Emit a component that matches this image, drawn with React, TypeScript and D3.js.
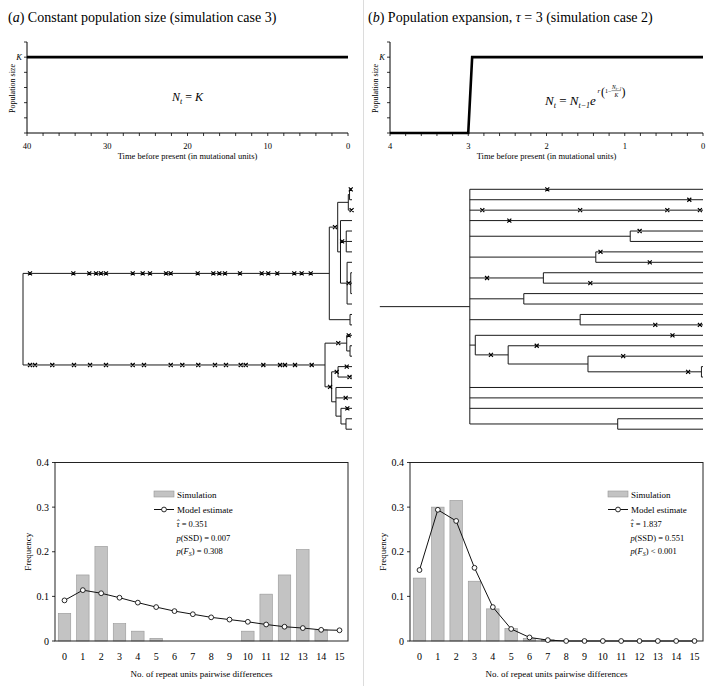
import { useEffect, useRef } from 'react'
import * as d3 from 'd3'

type Box = { left: number; right: number; top: number; bottom: number }
type Row = [string, string | null, number]
type G = d3.Selection<SVGGElement, unknown, null, undefined>

const WIDTH = 719
const HEIGHT = 686
const SERIF = '"Liberation Serif", "Times New Roman", Times, serif'
const INK = '#000'

// ── Top panels: population size through time ───────────────────────────────
const POP_K = 5
const POP_Y_TICKS = [0, 1, 2, 3, 4, 5, 6]
const POP_A_TIME = [40, 0]
const POP_A_SIZE = [5, 5]
const POP_B_TIME = [4, 3, 2.95, 0]
const POP_B_SIZE = [0, 0, 5, 5]
const TIME_A_LABELS = [40, 30, 20, 10, 0]
const TIME_B_LABELS = [4, 3, 2, 1, 0]

// ── Bottom panels: mismatch distributions ───────────────────────────────────
const DIFFS = [0, 1, 2, 3, 4, 5, 6, 7, 8, 9, 10, 11, 12, 13, 14, 15]
const SIM_A = [0.062, 0.148, 0.212, 0.039, 0.022, 0.006, 0, 0, 0, 0, 0.022, 0.105, 0.148, 0.205, 0.025, 0]
const MODEL_A = [0.091, 0.114, 0.107, 0.097, 0.086, 0.076, 0.067, 0.06, 0.053, 0.048, 0.043, 0.037, 0.032, 0.029, 0.025, 0.024]
const SIM_B = [0.141, 0.3, 0.315, 0.134, 0.072, 0.028, 0.006, 0.003, 0, 0, 0, 0, 0, 0, 0, 0]
const MODEL_B = [0.159, 0.294, 0.269, 0.164, 0.076, 0.027, 0.008, 0.002, 0, 0, 0, 0, 0, 0, 0, 0]
const FREQ_TICKS = [0, 0.1, 0.2, 0.3, 0.4]
const STATS_A = ['= 0.351', '= 0.007', '= 0.308']
const STATS_B = ['= 1.837', '= 0.551', '< 0.001']

// ── Genealogies: [node, parent, time before present] ────────────────────────
const TREE_A: Row[] = [
  ['root', null, 40],
  ['U', 'root', 2.76],
  ['L', 'root', 3.28],
  ['U1', 'U', 1.74],
  ['U2', 'U', 0.24],
  ['U1a', 'U1', 0.45],
  ['U1b', 'U1', 1.4],
  ['c01', 'U1a', 0.3],
  ['a0', 'c01', 0], ['a1', 'c01', 0],
  ['a2', 'U1a', 0],
  ['a3', 'U1b', 0],
  ['U1d', 'U1b', 0.7],
  ['a4', 'U1d', 0], ['a5', 'U1d', 0], ['a6', 'U1d', 0],
  ['U1e', 'U1b', 0.6],
  ['a7', 'U1e', 0],
  ['U1f', 'U1e', 0.15],
  ['a8', 'U1f', 0], ['a9', 'U1f', 0], ['a10', 'U1f', 0],
  ['a11', 'U1e', 0],
  ['a12', 'U2', 0], ['a13', 'U2', 0],
  ['L1', 'L', 0.64],
  ['a14', 'L1', 0],
  ['c1516', 'L1', 0.24],
  ['a15', 'c1516', 0], ['a16', 'c1516', 0],
  ['L2', 'L', 2.47],
  ['L2a', 'L2', 1.7],
  ['a17', 'L2a', 0], ['a18', 'L2a', 0],
  ['L2b', 'L2', 1.95],
  ['a19', 'L2b', 0], ['a20', 'L2b', 0],
  ['L2c', 'L2b', 1.34],
  ['a21', 'L2c', 0],
  ['c2223', 'L2c', 0.73],
  ['a22', 'c2223', 0], ['a23', 'c2223', 0],
]

// mutations: [branch (node below it), times]
const MUT_A: [string, number[]][] = [
  ['U', [39.15, 33.88, 31.94, 31.12, 30.52, 29.91, 26.66, 25.45, 24.56, 22.61, 22.04, 18.76, 16.86, 16.13, 15.44, 13.62, 10.98, 10.18, 9.09, 7.02, 6.12, 5.02]],
  ['L', [39.15, 38.54, 36.44, 33.8, 31.85, 29.91, 26.66, 25.29, 22.04, 20.63, 18.69, 16.66, 15.32, 13.53, 12.92, 10.78, 8.75, 8.15, 6.93, 4.9]],
  ['U1', [2.07]],
  ['a0', [0.15]],
  ['a2', [0.05]],
  ['U1d', [1.2]],
  ['U1f', [0.4]],
  ['L1', [1.67]],
  ['a14', [0.4]],
  ['L2', [2.67]],
  ['L2a', [1.86]],
  ['a17', [0.64]],
  ['a18', [0.3]],
  ['a20', [0.77]],
  ['a21', [0.57]],
]

const TREE_B: Row[] = [
  ['root', null, 2.98],
  ['b0', 'root', 0], ['b1', 'root', 0], ['b2', 'root', 0], ['b3', 'root', 0],
  ['n5', 'root', 0.93], ['b4', 'n5', 0], ['b5', 'n5', 0],
  ['n6', 'root', 1.37], ['b6', 'n6', 0], ['b7', 'n6', 0],
  ['n7', 'root', 2.04], ['b8', 'n7', 0], ['b9', 'n7', 0],
  ['n8', 'root', 2.29], ['b10', 'n8', 0], ['b11', 'n8', 0],
  ['n9', 'root', 1.57], ['b12', 'n9', 0], ['b13', 'n9', 0],
  ['n10', 'root', 2.91], ['b14', 'n10', 0],
  ['n11', 'n10', 2.49], ['b15', 'n11', 0],
  ['n12', 'n11', 1.47], ['b16', 'n12', 0],
  ['n13', 'n12', 0.02], ['b17', 'n13', 0], ['b18', 'n13', 0],
  ['b19', 'root', 0], ['b20', 'root', 0], ['b21', 'root', 0],
  ['n14', 'root', 1.09], ['b22', 'n14', 0], ['b23', 'n14', 0],
]
const TREE_B_STEM = 4.13

const MUT_B: [string, number[]][] = [
  ['b0', [1.99]],
  ['b1', [0.175]],
  ['b2', [2.82, 1.57, 0.456, 0.04]],
  ['b3', [2.475]],
  ['b4', [0.81]],
  ['b6', [1.31]],
  ['b7', [0.68]],
  ['n7', [2.76]],
  ['b9', [1.44]],
  ['b13', [0.61, 0.04]],
  ['b14', [0.39]],
  ['n11', [2.71]],
  ['b15', [2.125]],
  ['b16', [1.02]],
  ['n13', [0.19]],
]

// ── Layout ──────────────────────────────────────────────────────────────────
const TOP_A: Box = { left: 27, right: 348, top: 42, bottom: 133 }
const TOP_B: Box = { left: 390, right: 703, top: 42, bottom: 133 }
const BOT_A: Box = { left: 55, right: 348, top: 462.5, bottom: 641 }
const BOT_B: Box = { left: 410, right: 703, top: 462.5, bottom: 641 }
const LEAF_TOP = 189.3
const LEAF_STEP = 10.43

function txt(g: G, x: number, y: number, size: number, s: string, anchor = 'start') {
  return g.append('text')
    .attr('x', x).attr('y', y)
    .attr('font-size', size)
    .attr('text-anchor', anchor)
    .attr('fill', INK)
    .text(s)
}

function title(g: G, x: number, letter: string, parts: [string, boolean][]) {
  const t = g.append('text').attr('x', x).attr('y', 22).attr('font-size', 14).attr('fill', INK)
  t.append('tspan').text('(')
  t.append('tspan').attr('font-style', 'italic').text(letter)
  t.append('tspan').text(') ')
  parts.forEach(([s, it]) => t.append('tspan').attr('font-style', it ? 'italic' : 'normal').text(s))
}

function drawPopulation(
  g: G, box: Box, domain: [number, number], minor: number[], labels: number[],
  times: number[], sizes: number[],
) {
  const x = d3.scaleLinear().domain(domain).range([box.left, box.right])
  const y = d3.scaleLinear().domain([0, 6]).range([box.bottom, box.top])

  g.append('line').attr('x1', box.left).attr('x2', box.left)
    .attr('y1', box.top).attr('y2', box.bottom).attr('stroke', INK)
  g.append('line').attr('x1', box.left).attr('x2', box.right)
    .attr('y1', box.bottom).attr('y2', box.bottom).attr('stroke', INK)

  g.selectAll(null).data(minor).enter().append('line')
    .attr('x1', (d) => x(d)).attr('x2', (d) => x(d))
    .attr('y1', box.bottom).attr('y2', box.bottom + 3)
    .attr('stroke', INK).attr('stroke-width', 0.8)
  g.selectAll(null).data(POP_Y_TICKS).enter().append('line')
    .attr('x1', box.left - 3).attr('x2', box.left)
    .attr('y1', (d) => y(d)).attr('y2', (d) => y(d))
    .attr('stroke', INK).attr('stroke-width', 0.8)

  labels.forEach((v) => txt(g, x(v), box.bottom + 16, 8.5, String(v), 'middle'))
  txt(g, box.left - 5, y(POP_K) + 3, 8.5, 'K', 'end').attr('font-style', 'italic')

  txt(g, (box.left + box.right) / 2, box.bottom + 26, 8.5,
    'Time before present (in mutational units)', 'middle')
  txt(g, 0, 0, 8, 'Population size', 'middle')
    .attr('transform', `translate(${box.left - 12},${(box.top + box.bottom) / 2 + 1}) rotate(-90)`)

  const line = d3.line<number>()
    .x((d) => x(d))
    .y((_, i) => y(sizes[i]))
  g.append('path').datum(times)
    .attr('d', line)
    .attr('fill', 'none')
    .attr('stroke', INK)
    .attr('stroke-width', 2.6)
}

function drawTree(
  g: G, rows: Row[], muts: [string, number[]][], x: d3.ScaleLinear<number, number>, stem?: number,
) {
  const root = d3.stratify<Row>().id((d) => d[0]).parentId((d) => d[1])(rows)
  const ys = new Map<string, number>()
  let k = 0
  root.eachAfter((n) => {
    if (n.children) {
      const a = ys.get(n.children[0].id!)!
      const b = ys.get(n.children[n.children.length - 1].id!)!
      ys.set(n.id!, (a + b) / 2)
    } else {
      ys.set(n.id!, LEAF_TOP + LEAF_STEP * k++)
    }
  })

  const p = d3.path()
  root.each((n) => {
    const y = ys.get(n.id!)!
    const xn = x(n.data[2])
    if (n.parent) {
      p.moveTo(x(n.parent.data[2]), y)
      p.lineTo(xn, y)
    } else if (stem != null) {
      p.moveTo(x(stem), y)
      p.lineTo(xn, y)
    }
    if (n.children) {
      p.moveTo(xn, ys.get(n.children[0].id!)!)
      p.lineTo(xn, ys.get(n.children[n.children.length - 1].id!)!)
    }
  })
  g.append('path').attr('d', p.toString())
    .attr('fill', 'none').attr('stroke', '#1a1a1a').attr('stroke-width', 1)

  const crosses = d3.path()
  muts.forEach(([id, times]) => {
    const y = ys.get(id)!
    times.forEach((t) => {
      const cx = x(t)
      crosses.moveTo(cx - 2, y - 2)
      crosses.lineTo(cx + 2, y + 2)
      crosses.moveTo(cx - 2, y + 2)
      crosses.lineTo(cx + 2, y - 2)
    })
  })
  g.append('path').attr('d', crosses.toString())
    .attr('fill', 'none').attr('stroke', INK).attr('stroke-width', 1.2)
}

function drawMismatch(g: G, box: Box, sim: number[], model: number[], legendX: number, stats: string[]) {
  const x = d3.scaleLinear().domain([0, 15]).range([box.left + 9.5, box.right - 8.5])
  const y = d3.scaleLinear().domain([0, 0.4]).range([box.bottom, box.top])
  const bw = 12.5

  g.selectAll(null).data(DIFFS.filter((d) => sim[d] > 0)).enter().append('rect')
    .attr('x', (d) => x(d) - bw / 2)
    .attr('y', (d) => y(sim[d]))
    .attr('width', bw)
    .attr('height', (d) => y(0) - y(sim[d]))
    .attr('fill', '#c3c3c3')
    .attr('stroke', '#969696')
    .attr('stroke-width', 0.6)

  g.append('rect')
    .attr('x', box.left).attr('y', box.top)
    .attr('width', box.right - box.left).attr('height', box.bottom - box.top)
    .attr('fill', 'none').attr('stroke', '#222').attr('stroke-width', 1)

  const line = d3.line<number>().x((d) => x(d)).y((d) => y(model[d]))
  g.append('path').datum(DIFFS)
    .attr('d', line).attr('fill', 'none').attr('stroke', '#111').attr('stroke-width', 1)
  g.selectAll(null).data(DIFFS).enter().append('circle')
    .attr('cx', (d) => x(d)).attr('cy', (d) => y(model[d]))
    .attr('r', 2.4).attr('fill', '#fff').attr('stroke', '#111').attr('stroke-width', 0.9)

  FREQ_TICKS.forEach((v) => {
    g.append('line').attr('x1', box.left - 3).attr('x2', box.left)
      .attr('y1', y(v)).attr('y2', y(v)).attr('stroke', INK).attr('stroke-width', 0.8)
    txt(g, box.left - 6, y(v) + 3.5, 10, v === 0 ? '0' : v.toFixed(1), 'end')
  })
  DIFFS.forEach((d) => txt(g, x(d), 660, 10, String(d), 'middle'))
  txt(g, (box.left + box.right) / 2, 676.5, 9, 'No. of repeat units pairwise differences', 'middle')
  txt(g, 0, 0, 9, 'Frequency', 'middle')
    .attr('transform', `translate(${box.left - 24},${(box.top + box.bottom) / 2}) rotate(-90)`)

  // legend
  g.append('rect').attr('x', legendX).attr('y', 491).attr('width', 20).attr('height', 6)
    .attr('fill', '#c3c3c3').attr('stroke', '#969696').attr('stroke-width', 0.6)
  txt(g, legendX + 23, 497.5, 9, 'Simulation')
  g.append('line').attr('x1', legendX).attr('x2', legendX + 20)
    .attr('y1', 509.5).attr('y2', 509.5).attr('stroke', '#111')
  g.append('circle').attr('cx', legendX + 10).attr('cy', 509.5).attr('r', 2.4)
    .attr('fill', '#fff').attr('stroke', '#111').attr('stroke-width', 0.9)
  txt(g, legendX + 23, 513, 9, 'Model estimate')

  const sx = legendX + 22.5
  const t1 = txt(g, sx, 527, 8.5, '')
  t1.append('tspan').attr('font-style', 'italic').text('τ')
  t1.append('tspan').text(` ${stats[0]}`)
  txt(g, sx + 0.6, 526, 8, 'ˆ')
  const t2 = txt(g, sx, 540.5, 8.5, '')
  t2.append('tspan').attr('font-style', 'italic').text('p')
  t2.append('tspan').text(`(SSD) ${stats[1]}`)
  const t3 = txt(g, sx, 553.5, 8.5, '')
  t3.append('tspan').attr('font-style', 'italic').text('p')
  t3.append('tspan').text('(')
  t3.append('tspan').attr('font-style', 'italic').text('F')
  t3.append('tspan').attr('font-size', 6).attr('dy', 2).attr('font-style', 'italic').text('S')
  t3.append('tspan').attr('dy', -2).text(`) ${stats[2]}`)
}

export default function App() {
  const svgRef = useRef<SVGSVGElement>(null)

  useEffect(() => {
    if (!svgRef.current) return
    const svg = d3.select(svgRef.current)
    svg.selectAll('*').remove()
    const g = svg.append('g') as G

    // divider between panels
    g.append('line').attr('x1', 363.5).attr('x2', 363.5).attr('y1', 0).attr('y2', HEIGHT)
      .attr('stroke', '#dcdcdc').attr('stroke-width', 1)

    title(g, 8, 'a', [['Constant population size (simulation case 3)', false]])
    title(g, 368, 'b', [['Population expansion, ', false], ['τ', true], [' = 3 (simulation case 2)', false]])

    // ── population panels ──
    drawPopulation(g, TOP_A, [40, 0], d3.range(0, 40.01, 2), TIME_A_LABELS, POP_A_TIME, POP_A_SIZE)
    drawPopulation(g, TOP_B, [4, 0], d3.range(0, 4.001, 0.2), TIME_B_LABELS, POP_B_TIME, POP_B_SIZE)

    // formula (a)
    const fa = txt(g, 172, 101, 12, '').attr('font-style', 'italic')
    fa.append('tspan').text('N')
    fa.append('tspan').attr('font-size', 8).attr('dy', 3).text('t')
    fa.append('tspan').attr('dy', -3).attr('font-style', 'normal').text(' = ')
    fa.append('tspan').text('K')

    // formula (b)
    const fb = txt(g, 545, 105, 13, '').attr('font-style', 'italic')
    fb.append('tspan').text('N')
    fb.append('tspan').attr('font-size', 8).attr('dy', 3).text('t')
    fb.append('tspan').attr('dy', -3).attr('font-style', 'normal').text(' = ')
    fb.append('tspan').text('N')
    fb.append('tspan').attr('font-size', 8).attr('dy', 3).text('t−1')
    fb.append('tspan').attr('dy', -3).text('e')
    txt(g, 597.5, 93, 7, 'r').attr('font-style', 'italic')
    txt(g, 601, 95.5, 12, '(').attr('font-weight', 300)
    txt(g, 605, 92.5, 6, '1−')
    const num = txt(g, 612, 88.5, 5.5, '').attr('font-style', 'italic')
    num.append('tspan').text('N')
    num.append('tspan').attr('font-size', 4).attr('dy', 1).text('t−1')
    g.append('line').attr('x1', 611.5).attr('x2', 621).attr('y1', 90.6).attr('y2', 90.6)
      .attr('stroke', INK).attr('stroke-width', 0.4)
    txt(g, 614.5, 96.5, 5.5, 'K').attr('font-style', 'italic')
    txt(g, 621.5, 95.5, 12, ')').attr('font-weight', 300)

    // ── genealogies ──
    const xTreeA = d3.scaleLinear().domain([40, 0]).range([23, 352])
    drawTree(g, TREE_A, MUT_A, xTreeA)
    const xTreeB = d3.scaleLinear().domain([4, 0]).range([TOP_B.left, TOP_B.right])
    drawTree(g, TREE_B, MUT_B, xTreeB, TREE_B_STEM)

    // ── mismatch distributions ──
    drawMismatch(g, BOT_A, SIM_A, MODEL_A, 154, STATS_A)
    drawMismatch(g, BOT_B, SIM_B, MODEL_B, 608, STATS_B)
  }, [])

  return (
    <svg
      ref={svgRef}
      width={WIDTH}
      height={HEIGHT}
      fontFamily={SERIF}
      style={{ position: 'absolute', left: 0, top: 0, background: '#fff', display: 'block' }}
    />
  )
}
